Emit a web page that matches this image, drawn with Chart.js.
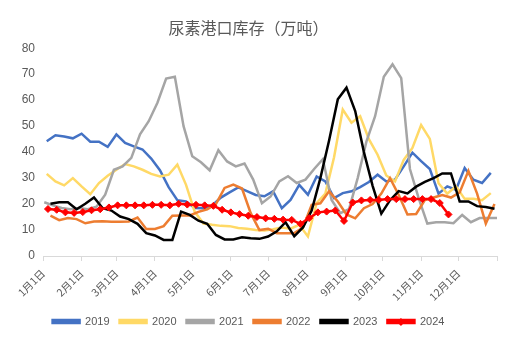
<!DOCTYPE html>
<html>
<head>
<meta charset="utf-8">
<script src="https://cdn.jsdelivr.net/npm/chart.js@4.4.1/dist/chart.umd.min.js"></script>
<style>
    html, body { margin: 0; padding: 0; background: #fff; }
</style>
</head>
<body>
<canvas id="chart" width="514" height="346"></canvas>
<script>
// Eixo X: dias do ano, rótulos no início de cada mês
const monthLabels = ['1月1日', '2月1日', '3月1日', '4月1日', '5月1日', '6月1日',
    '7月1日', '8月1日', '9月1日', '10月1日', '11月1日', '12月1日'];
const monthStarts = [0, 31, 59, 90, 120, 151, 181, 212, 243, 273, 304, 334];
const yearEnd = 365;

// Séries semanais (万吨), primeira data de cada ano (dia do ano)
const years = ['2019', '2020', '2021', '2022', '2023', '2024'];
const firstDays = [3, 3, 1, 6, 6, 4];

const v2019 = [44.2, 46.5, 46.0, 45.3, 47.1, 44.0, 44.0, 42.0, 46.8, 43.5, 42.2, 41.0, 37.5, 33.0, 26.5, 21.5, 21.0, 18.5, 18.4, 19.5,
    22.5, 24.5, 26.4, 25.0, 23.5, 23.0, 24.9, 18.4, 21.6, 27.4, 23.6, 30.6, 28.7, 22.3, 24.2, 24.9, 26.5, 28.5, 31.3, 28.7,
    29.4, 34.5, 39.8, 36.5, 33.5, 24.0, 26.8, 25.5, 33.9, 29.4, 28.1, 32.0];
const v2020 = [31.6, 28.7, 27.2, 30.0, 26.8, 23.8, 28.1, 30.9, 33.2, 35.4, 34.5, 33.2, 31.6, 30.6, 31.3, 35.2, 27.4, 17.0, 12.5, 12.0,
    11.6, 11.5, 10.8, 10.5, 10.0, 9.8, 10.3, 11.0, 10.5, 12.0, 7.5, 20.4, 24.0, 38.0, 56.4, 51.3, 53.8, 45.0, 39.0, 31.0,
    28.7, 37.0, 41.6, 50.4, 45.1, 28.0, 24.0, 26.8, 22.0, 22.0, 21.5, 24.2];
const v2021 = [20.7, 19.5, 18.5, 18.0, 18.5, 18.0, 19.0, 23.6, 33.2, 34.5, 37.8, 46.8, 51.9, 59.0, 68.3, 69.0, 50.0, 38.4, 36.1, 33.0,
    40.7, 36.4, 34.5, 35.6, 29.4, 20.3, 22.9, 28.7, 30.7, 28.1, 29.4, 33.5, 37.3, 21.6, 16.5, 18.0, 30.0, 44.0, 53.8, 69.0,
    73.8, 68.5, 33.5, 22.3, 12.5, 13.0, 13.0, 12.6, 15.8, 13.0, 14.6, 14.6, 14.6];
const v2022 = [15.5, 13.8, 14.6, 14.2, 12.6, 13.3, 13.4, 13.2, 13.2, 13.3, 14.8, 10.4, 10.4, 11.5, 15.5, 15.6, 15.6, 17.0, 18.0, 20.0,
    26.2, 27.5, 26.0, 16.5, 10.0, 10.5, 8.8, 8.8, 8.8, 11.0, 19.7, 20.3, 24.9, 21.0, 16.0, 14.5, 18.4, 20.0, 24.0, 30.0,
    23.5, 16.0, 16.2, 21.5, 22.5, 23.5, 22.5, 24.5, 32.8, 24.0, 12.5, 20.0];
const v2023 = [20.1, 20.7, 20.7, 18.0, 20.1, 22.5, 18.4, 17.5, 15.2, 14.2, 12.4, 8.8, 7.9, 6.2, 6.2, 17.1, 15.8, 13.6, 12.4, 8.1,
    6.4, 6.4, 7.2, 6.8, 6.6, 7.5, 9.5, 13.0, 7.6, 11.0, 17.5, 30.0, 44.5, 60.3, 64.8, 55.8, 40.0, 27.0, 16.3, 21.5,
    25.0, 24.1, 26.7, 28.5, 30.0, 31.8, 31.8, 21.0, 21.0, 19.2, 18.9, 18.2];
const v2024 = [18.1, 17.8, 16.8, 16.6, 16.9, 17.6, 18.0, 18.7, 19.5, 19.5, 19.5, 19.5, 19.7, 19.7, 19.5, 20.1, 19.8, 19.7, 19.5, 19.3,
    17.8, 16.8, 16.1, 15.5, 15.0, 14.5, 14.3, 14.0, 13.9, 12.4, 14.6, 16.8, 17.1, 17.5, 13.5, 20.6, 21.4, 21.6, 21.6, 21.9,
    21.9, 21.9, 21.9, 21.9, 21.9, 20.4, 16.0];
const seriesValues = [v2019, v2020, v2021, v2022, v2023, v2024];

const COLORS = ['#4472C4', '#FFD966', '#A5A5A5', '#ED7D31', '#000000', '#FF0000'];
const TXT = '#595959';
const FONT = "'Liberation Sans', Arial, sans-serif";

// Monta os pontos {x: dia, y: valor} a partir das semanas
function weekly(values, startDay) {
    return values.map((v, i) => ({ x: startDay + 7 * i, y: v }));
}

const DATASETS = years.map((y, i) => ({
    label: y,
    data: weekly(seriesValues[i], firstDays[i]),
    borderColor: COLORS[i],
    backgroundColor: COLORS[i],
    borderWidth: 2.5,
    tension: 0,
    order: years.length - i,
    pointRadius: y === '2024' ? 3.5 : 0,
    pointStyle: 'rectRot',
    pointBorderWidth: 1
}));

// Losango no item 2024 da legenda
const legendMarker = {
    id: 'legendMarker',
    afterDraw(chart) {
        const legend = chart.legend;
        const idx = legend.legendItems.findIndex(it => it.text === '2024');
        const box = legend.legendHitBoxes[idx];
        if (!box) return;
        const ctx = chart.ctx;
        const bw = legend.options.labels.boxWidth;
        const cx = box.left + bw / 2;
        const cy = box.top + legend.options.labels.font.size / 2 + 0.5;
        ctx.save();
        ctx.fillStyle = COLORS[5];
        ctx.beginPath();
        ctx.moveTo(cx, cy - 4);
        ctx.lineTo(cx + 4, cy);
        ctx.lineTo(cx, cy + 4);
        ctx.lineTo(cx - 4, cy);
        ctx.closePath();
        ctx.fill();
        ctx.restore();
    }
};

new Chart(document.getElementById('chart'), {
    type: 'line',
    data: { datasets: DATASETS },
    plugins: [legendMarker],
    options: {
        responsive: false,
        animation: false,
        layout: { padding: { left: 0, right: 17, top: 0, bottom: 9 } },
        plugins: {
            title: {
                display: true,
                text: '尿素港口库存（万吨）',
                color: TXT,
                font: { family: "'Noto Sans CJK SC', sans-serif", size: 16, weight: 'normal' },
                padding: { top: 18, bottom: 11 }
            },
            legend: {
                position: 'bottom',
                labels: {
                    color: TXT,
                    font: { family: FONT, size: 11 },
                    boxWidth: 27,
                    boxHeight: 3,
                    padding: 10,
                    sort: (a, b) => a.datasetIndex - b.datasetIndex
                }
            },
            tooltip: { enabled: false }
        },
        scales: {
            x: {
                type: 'linear',
                min: 0,
                max: yearEnd,
                afterBuildTicks(scale) {
                    scale.ticks = monthStarts.concat([yearEnd]).map(v => ({ value: v }));
                },
                afterFit(scale) { scale.height = 50; },
                ticks: {
                    autoSkip: false,
                    maxRotation: 45,
                    minRotation: 45,
                    padding: 6,
                    color: TXT,
                    font: { family: "'Noto Sans CJK SC', sans-serif", size: 10.5 },
                    callback(value) {
                        const i = monthStarts.indexOf(value);
                        return i >= 0 ? monthLabels[i] : '';
                    }
                },
                grid: { drawOnChartArea: false, drawTicks: true, tickLength: 5, color: '#D9D9D9' },
                border: { color: '#D9D9D9' }
            },
            y: {
                min: 0,
                max: 80,
                afterFit(scale) { scale.width = 43; },
                ticks: { stepSize: 10, padding: 8, color: TXT, font: { family: FONT, size: 12 } },
                grid: { display: false, drawTicks: false, tickLength: 0 },
                border: { display: false }
            }
        }
    }
});
</script>
</body>
</html>
